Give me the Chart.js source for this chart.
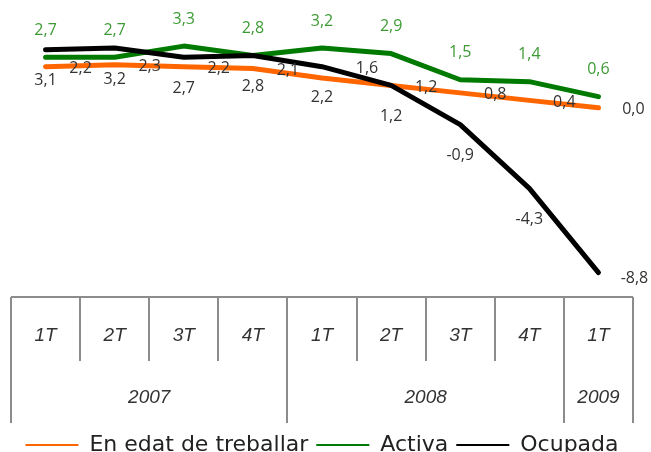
<!DOCTYPE html>
<html lang="ca">
<head>
<meta charset="UTF-8">
<title>Població en edat de treballar, activa i ocupada</title>
<style>
    body { margin: 0; padding: 0; background: #fff; }
    #wrap { width: 651px; height: 452px; }
</style>
</head>
<body>
<div id="wrap"><canvas id="chart" width="651" height="452"></canvas></div>
<script src="https://cdn.jsdelivr.net/npm/chart.js@4"></script>
<script>
    // quarters and years for the two-level axis
    const quarters = ['1T', '2T', '3T', '4T', '1T', '2T', '3T', '4T', '1T'];
    const years = ['2007', '2008', '2009'];
    const quartersPerYear = [4, 4, 1];

    // yearly variation (%)
    const edatTreballar = [2.2, 2.3, 2.2, 2.1, 1.6, 1.2, 0.8, 0.4, 0.0];
    const activa = [2.7, 2.7, 3.3, 2.8, 3.2, 2.9, 1.5, 1.4, 0.6];
    const ocupada = [3.1, 3.2, 2.7, 2.8, 2.2, 1.2, -0.9, -4.3, -8.8];

    const fmt = v => v.toFixed(1).replace('.', ',');

    // value labels + the boxed category axis
    const decorations = {
        id: 'decorations',
        afterDatasetsDraw(chart) {
            const ctx = chart.ctx;
            const x = chart.scales.x;
            const area = chart.chartArea;
            ctx.save();

            // data labels
            ctx.font = '16px "Open Sans"';
            ctx.textAlign = 'center';
            ctx.textBaseline = 'middle';
            chart.data.datasets.forEach((ds, di) => {
                const meta = chart.getDatasetMeta(di);
                const last = ds.data.length - 1;
                meta.data.forEach((pt, i) => {
                    let dx = 0, dy = 0;
                    if (di === 0) {
                        dx = 35; dy = 2;
                        if (i === 4) { dx = 45; dy = -9; } // nudged clear of the black line
                    } else if (di === 1) {
                        dy = -27;
                    } else {
                        dy = 31;
                        if (i === last) { dx = 36; dy = 6; }
                    }
                    ctx.fillStyle = di === 1 ? '#3d9b35' : '#333333';
                    ctx.fillText(fmt(ds.data[i]), pt.x + dx, pt.y + dy);
                });
            });

            // category table
            const top = area.bottom + 2;
            const qBottom = top + 64;
            const yBottom = top + 126;
            const n = quarters.length;
            const edge = i => {
                if (i === 0) return area.left;
                if (i === n) return area.right;
                return (x.getPixelForValue(i - 1) + x.getPixelForValue(i)) / 2;
            };
            ctx.strokeStyle = '#8c8c8c';
            ctx.lineWidth = 2;
            ctx.beginPath();
            ctx.moveTo(area.left, top);
            ctx.lineTo(area.right, top);
            const yearEdges = [0];
            quartersPerYear.forEach(q => yearEdges.push(yearEdges[yearEdges.length - 1] + q));
            for (let i = 0; i <= n; i++) {
                const px = Math.round(edge(i));
                ctx.moveTo(px, top);
                ctx.lineTo(px, yearEdges.includes(i) ? yBottom : qBottom);
            }
            ctx.stroke();

            ctx.fillStyle = '#333333';
            ctx.font = 'italic 19px "Liberation Sans"';
            quarters.forEach((q, i) => {
                ctx.fillText(q, x.getPixelForValue(i), top + 39);
            });
            years.forEach((yr, j) => {
                const cx = (edge(yearEdges[j]) + edge(yearEdges[j + 1])) / 2;
                ctx.fillText(yr, cx, top + 101);
            });
            ctx.restore();
        }
    };

    new Chart(document.getElementById('chart'), {
        type: 'line',
        data: {
            labels: quarters,
            datasets: [
                { label: 'En edat de treballar', data: edatTreballar, borderColor: '#ff6600', backgroundColor: '#ff6600', order: 2 },
                { label: 'Activa', data: activa, borderColor: '#007a00', backgroundColor: '#007a00', order: 1 },
                { label: 'Ocupada', data: ocupada, borderColor: '#000000', backgroundColor: '#000000', order: 0 }
            ]
        },
        options: {
            responsive: false,
            animation: false,
            layout: { padding: { left: 11, right: 18, top: 33, bottom: -14 } },
            elements: {
                line: { borderWidth: 5, borderCapStyle: 'round', borderJoinStyle: 'round', tension: 0 },
                point: { radius: 0 }
            },
            scales: {
                x: {
                    offset: true,
                    grid: { display: false },
                    border: { display: false },
                    ticks: { display: false },
                    afterFit(scale) { scale.height = 131; }
                },
                y: { display: false, min: -10, max: 4 }
            },
            plugins: {
                tooltip: { enabled: false },
                legend: {
                    position: 'bottom',
                    labels: {
                        boxWidth: 53,
                        boxHeight: 2,
                        padding: 8,
                        color: '#222222',
                        font: { family: 'DejaVu Sans', size: 22 },
                        generateLabels(chart) {
                            const items = Chart.defaults.plugins.legend.labels.generateLabels(chart);
                            items.forEach(it => { it.lineWidth = 0; });
                            return items.sort((a, b) => a.datasetIndex - b.datasetIndex);
                        }
                    }
                }
            }
        },
        plugins: [decorations]
    });
</script>
</body>
</html>
